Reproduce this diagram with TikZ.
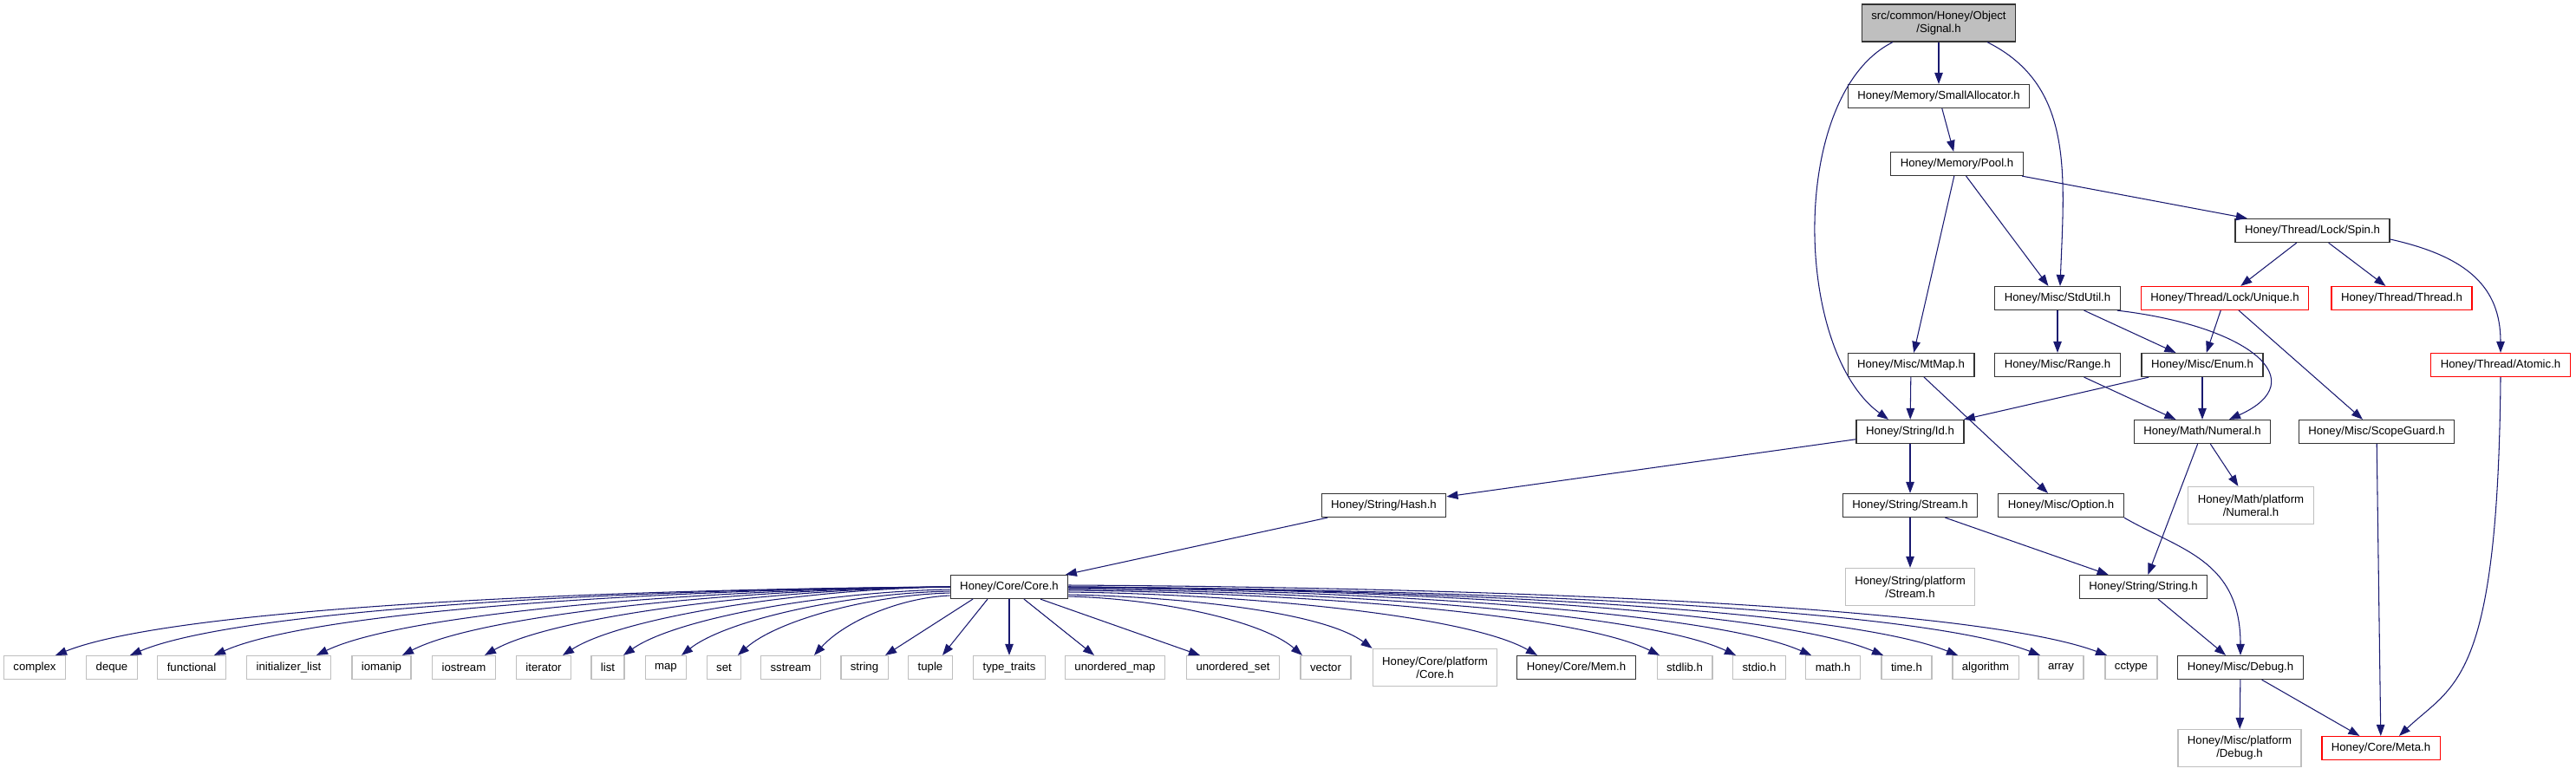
\documentclass[tikz,border=0pt]{standalone}
\usepackage{fontspec}
\setmainfont{Liberation Sans}
\usetikzlibrary{arrows.meta}
\definecolor{navy}{HTML}{191970}
\begin{document}
\begin{tikzpicture}[
  file/.style={draw=black!80, line width=0.7pt, align=center, inner xsep=0.22cm,
               inner ysep=0.06cm, minimum height=0.54cm, font=\fontsize{7.5}{8.5}\selectfont},
  ext/.style={file, draw=black!25},
  part/.style={file, draw=red},
  root/.style={file, fill=black!25},
  tall/.style={minimum height=0.86cm},
  dep/.style={draw=navy, line width=0.6pt, -{Triangle[length=0.26cm, width=0.19cm]}}]
  \useasboundingbox (0,0) rectangle (59.42,-17.86);
  % upper part of the graph
  \node[root, tall] (sig) at (44.72,-0.53) {src/common/Honey/Object\\/Signal.h};
  \node[file] (alloc) at (44.72,-2.22) {Honey/Memory/SmallAllocator.h};
  \node[file] (pool) at (45.14,-3.78) {Honey/Memory/Pool.h};
  \node[file] (spin) at (53.34,-5.32) {Honey/Thread/Lock/Spin.h};
  \node[file] (stdutil) at (47.46,-6.88) {Honey/Misc/StdUtil.h};
  \node[part] (unique) at (51.32,-6.88) {Honey/Thread/Lock/Unique.h};
  \node[part] (thread) at (55.40,-6.88) {Honey/Thread/Thread.h};
  \node[file] (mtmap) at (44.08,-8.42) {Honey/Misc/MtMap.h};
  \node[file] (range) at (47.46,-8.42) {Honey/Misc/Range.h};
  \node[file] (enum) at (50.80,-8.42) {Honey/Misc/Enum.h};
  \node[part] (atomic) at (57.68,-8.42) {Honey/Thread/Atomic.h};
  \node[file] (id) at (44.06,-9.96) {Honey/String/Id.h};
  \node[file] (numeral) at (50.80,-9.96) {Honey/Math/Numeral.h};
  \node[file] (scope) at (54.82,-9.96) {Honey/Misc/ScopeGuard.h};
  \node[file] (hash) at (31.92,-11.66) {Honey/String/Hash.h};
  \node[file] (stream) at (44.06,-11.66) {Honey/String/Stream.h};
  \node[file] (option) at (47.54,-11.66) {Honey/Misc/Option.h};
  \node[ext, tall] (mathplat) at (51.92,-11.66) {Honey/Math/platform\\/Numeral.h};
  \node[file] (core) at (23.28,-13.54) {Honey/Core/Core.h};
  \node[ext, tall] (strplat) at (44.06,-13.54) {Honey/String/platform\\/Stream.h};
  \node[file] (strh) at (49.44,-13.54) {Honey/String/String.h};
  % bottom row
  \node[ext] (complex) at (0.80,-15.40) {complex};
  \node[ext] (deque) at (2.58,-15.40) {deque};
  \node[ext] (functional) at (4.42,-15.40) {functional};
  \node[ext] (initlist) at (6.66,-15.40) {initializer\_list};
  \node[ext] (iomanip) at (8.80,-15.40) {iomanip};
  \node[ext] (iostream) at (10.70,-15.40) {iostream};
  \node[ext] (iterator) at (12.54,-15.40) {iterator};
  \node[ext] (list) at (14.02,-15.40) {list};
  \node[ext] (map) at (15.36,-15.40) {map};
  \node[ext] (set) at (16.70,-15.40) {set};
  \node[ext] (sstream) at (18.24,-15.40) {sstream};
  \node[ext] (string) at (19.94,-15.40) {string};
  \node[ext] (tuple) at (21.46,-15.40) {tuple};
  \node[ext] (traits) at (23.28,-15.40) {type\_traits};
  \node[ext] (umap) at (25.72,-15.40) {unordered\_map};
  \node[ext] (uset) at (28.44,-15.40) {unordered\_set};
  \node[ext] (vector) at (30.58,-15.40) {vector};
  \node[ext, tall] (coreplat) at (33.10,-15.40) {Honey/Core/platform\\/Core.h};
  \node[file] (mem) at (36.36,-15.40) {Honey/Core/Mem.h};
  \node[ext] (stdlib) at (38.86,-15.40) {stdlib.h};
  \node[ext] (stdio) at (40.58,-15.40) {stdio.h};
  \node[ext] (mathh) at (42.28,-15.40) {math.h};
  \node[ext] (timeh) at (43.98,-15.40) {time.h};
  \node[ext] (algorithm) at (45.80,-15.40) {algorithm};
  \node[ext] (array) at (47.54,-15.40) {array};
  \node[ext] (cctype) at (49.16,-15.40) {cctype};
  \node[file] (debug) at (51.68,-15.40) {Honey/Misc/Debug.h};
  \node[ext, tall] (miscplat) at (51.66,-17.26) {Honey/Misc/platform\\/Debug.h};
  \node[part] (meta) at (54.92,-17.26) {Honey/Core/Meta.h};
  % includes
  \draw[dep] (sig) -- (alloc);
  \draw[dep] ([xshift=-1.06cm]sig.south) .. controls +(-2.4,-1.2) and +(-2.2,1.6) .. ([xshift=-0.5cm]id.north);
  \draw[dep] ([xshift=1.12cm]sig.south) .. controls +(2.0,-1.0) and +(0.1,2.6) .. ([xshift=0.06cm]stdutil.north);
  \draw[dep] (alloc) -- (pool);
  \draw[dep] (pool) -- (spin);
  \draw[dep] (pool) -- (stdutil);
  \draw[dep] (pool) -- (mtmap);
  \draw[dep] (spin) -- (unique);
  \draw[dep] (spin) -- (thread);
  \draw[dep] ([yshift=-0.2cm]spin.east) .. controls +(1.8,-0.4) and +(0,1.5) .. (atomic.north);
  \draw[dep] (stdutil) -- (range);
  \draw[dep] (stdutil) -- (enum);
  \draw[dep] ([xshift=-0.08cm]stdutil.south east) .. controls +(3.06,-0.36) and +(1.98,0.89) .. ([xshift=0.62cm]numeral.north);
  \draw[dep] (unique) -- (enum);
  \draw[dep] (unique) -- (scope);
  \draw[dep] (mtmap) -- (id);
  \draw[dep] (mtmap) -- (option);
  \draw[dep] (range) -- (numeral);
  \draw[dep] (enum) -- (id);
  \draw[dep] (enum) -- (numeral);
  \draw[dep] (atomic.south) .. controls +(-0.06,-7.1) and +(1.26,1.2) .. ([xshift=0.42cm]meta.north);
  \draw[dep] (scope) -- (meta);
  \draw[dep] (id) -- (hash);
  \draw[dep] (id) -- (stream);
  \draw[dep] (numeral) -- (strh);
  \draw[dep] (numeral) -- (mathplat);
  \draw[dep] (hash) -- (core);
  \draw[dep] (stream) -- (strplat);
  \draw[dep] (stream) -- (strh);
  \draw[dep] (option.south east) .. controls +(1.3,-0.75) and +(0,2.2) .. (debug.north);
  \draw[dep] (strh) -- (debug);
  \draw[dep] (debug) -- (miscplat);
  \draw[dep] (debug) -- (meta);
  % Core.h fan, left side
  \draw[dep] (core.west) .. controls +(-7.84,-0.05) and +(2.78,1.11) .. ([xshift=0.48cm]complex.north);
  \draw[dep] (core.west) .. controls +(-7.19,-0.05) and +(2.57,1.08) .. ([xshift=0.42cm]deque.north);
  \draw[dep] (core.west) .. controls +(-6.45,-0.05) and +(2.34,1.04) .. ([xshift=0.52cm]functional.north);
  \draw[dep] (core.west) .. controls +(-5.56,-0.05) and +(2.05,0.99) .. ([xshift=0.64cm]initlist.north);
  \draw[dep] (core.west) .. controls +(-4.80,-0.05) and +(1.82,0.95) .. ([xshift=0.48cm]iomanip.north);
  \draw[dep] (core.west) .. controls +(-4.08,-0.05) and +(1.59,0.91) .. ([xshift=0.48cm]iostream.north);
  \draw[dep] (core.west) .. controls +(-3.40,-0.05) and +(1.37,0.88) .. ([xshift=0.44cm]iterator.north);
  \draw[dep] ([yshift=-0.06cm]core.west) .. controls +(-2.87,-0.05) and +(1.20,0.85) .. ([xshift=0.36cm]list.north);
  \draw[dep] ([yshift=-0.1cm]core.west) .. controls +(-2.36,-0.05) and +(1.04,0.82) .. ([xshift=0.36cm]map.north);
  \draw[dep] ([yshift=-0.14cm]core.west) .. controls +(-1.86,-0.05) and +(0.89,0.80) .. ([xshift=0.32cm]set.north);
  \draw[dep] ([yshift=-0.2cm]core.west) .. controls +(-1.19,-0.05) and +(0.68,0.76) .. ([xshift=0.54cm]sstream.north);
  % Core.h fan, middle
  \draw[dep] ([xshift=-0.84cm]core.south) -- ([xshift=0.48cm]string.north);
  \draw[dep] ([xshift=-0.5cm]core.south) -- ([xshift=0.28cm]tuple.north);
  \draw[dep] (core) -- (traits);
  \draw[dep] ([xshift=0.34cm]core.south) -- ([xshift=-0.48cm]umap.north);
  \draw[dep] ([xshift=0.72cm]core.south) -- ([xshift=-0.76cm]uset.north);
  % Core.h fan, right side
  \draw[dep] ([yshift=-0.22cm]core.east) .. controls +(2.05,-0.05) and +(-0.95,0.81) .. ([xshift=-0.54cm]vector.north);
  \draw[dep] ([yshift=-0.18cm]core.east) .. controls +(2.64,-0.05) and +(-1.14,0.84) .. (coreplat.north west);
  \draw[dep] ([yshift=-0.12cm]core.east) .. controls +(4.11,-0.05) and +(-1.60,0.92) .. ([xshift=-0.9cm]mem.north);
  \draw[dep] ([yshift=-0.08cm]core.east) .. controls +(5.18,-0.05) and +(-1.94,0.97) .. ([xshift=-0.58cm]stdlib.north);
  \draw[dep] ([yshift=-0.05cm]core.east) .. controls +(5.85,-0.05) and +(-2.15,1.01) .. ([xshift=-0.54cm]stdio.north);
  \draw[dep] ([yshift=-0.02cm]core.east) .. controls +(6.51,-0.05) and +(-2.36,1.04) .. ([xshift=-0.5cm]mathh.north);
  \draw[dep] (core.east) .. controls +(7.14,-0.05) and +(-2.56,1.08) .. ([xshift=-0.54cm]timeh.north);
  \draw[dep] (core.east) .. controls +(7.80,-0.05) and +(-2.76,1.11) .. ([xshift=-0.64cm]algorithm.north);
  \draw[dep] (core.east) .. controls +(8.52,-0.05) and +(-2.99,1.15) .. ([xshift=-0.48cm]array.north);
  \draw[dep] ([yshift=0.04cm]core.east) .. controls +(9.10,-0.05) and +(-3.18,1.18) .. ([xshift=-0.56cm]cctype.north);
\end{tikzpicture}
\end{document}
